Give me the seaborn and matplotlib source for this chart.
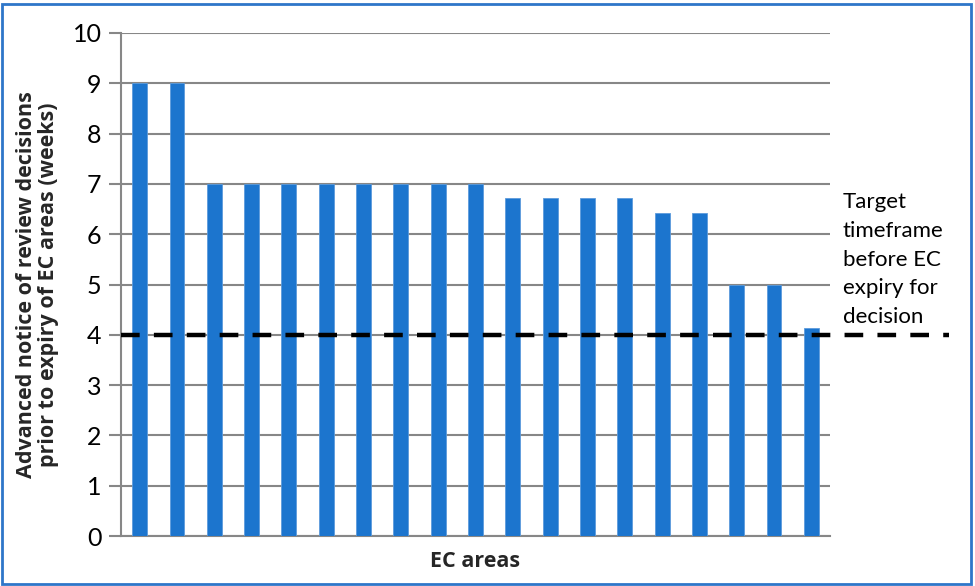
import matplotlib
matplotlib.use("Agg")
import matplotlib.pyplot as plt
from matplotlib.patches import Rectangle
import pandas as pd
import seaborn as sns

# ── Data ──────────────────────────────────────────────────────────────────────
areas = [f"Area {i}" for i in range(1, 20)]
weeks = [9, 9, 7, 7, 7, 7, 7, 7, 7, 7,
         6.71, 6.71, 6.71, 6.71, 6.43, 6.43, 5, 5, 4.14]
target_weeks = 4
target_label = "Target\ntimeframe\nbefore EC\nexpiry for\ndecision"

df = pd.DataFrame({"area": areas, "weeks": weeks})

sns.set_theme(style="white")
plt.rcParams['font.family'] = ['Lato', 'DejaVu Sans']

fig = plt.figure(figsize=(9.75, 5.86), dpi=100)
ax = fig.add_axes([121 / 975, 1 - 536 / 586, (830 - 121) / 975, (536 - 33) / 586])

sns.barplot(data=df, x="area", y="weeks", order=areas, color="#1C75CE",
            saturation=1, width=0.4, ax=ax, zorder=3, edgecolor="#5C9BDC",
            linewidth=0.6)

# gridlines
grey = "#878787"
ax.set_ylim(0, 10)
ax.set_xlim(-0.5, 18.5)
ax.set_yticks(range(0, 11))
ax.yaxis.grid(True, color=grey, linewidth=1.5, zorder=0)
ax.set_axisbelow(True)
for s in ["top", "right"]:
    ax.spines[s].set_visible(False)
for s in ["left", "bottom"]:
    ax.spines[s].set_color(grey)
    ax.spines[s].set_linewidth(1.5)
ax.tick_params(axis="y", which="both", left=True, length=9, width=1.5,
               color=grey, labelsize=18, pad=5, labelcolor="black")
ax.tick_params(axis="x", bottom=False, labelbottom=False)

# target line extends past the plot area
ax.plot([-0.5, 21.7], [target_weeks, target_weeks], color="black",
        linewidth=3.2, linestyle=(0, (4.2, 3.2)), clip_on=False, zorder=5)
ax.text(18.84, 6.84, target_label, fontsize=16, ha="left", va="top",
        linespacing=1.55, color="black")

bold = dict(fontweight="bold", family=["Open Sans", "DejaVu Sans"])
ax.set_xlabel("EC areas", labelpad=11, fontsize=15.5, **bold)
ax.set_ylabel("Advanced notice of review decisions\nprior to expiry of EC areas (weeks)",
              labelpad=10, linespacing=1.05, fontsize=15.5, **bold)

# blue frame round the whole picture
fig.patches.append(Rectangle((0.002, 0.003), 0.994, 0.991, transform=fig.transFigure,
                             fill=False, edgecolor="#2E76C9", linewidth=2))

fig.savefig("out.png", dpi=100)
plt.close(fig)
